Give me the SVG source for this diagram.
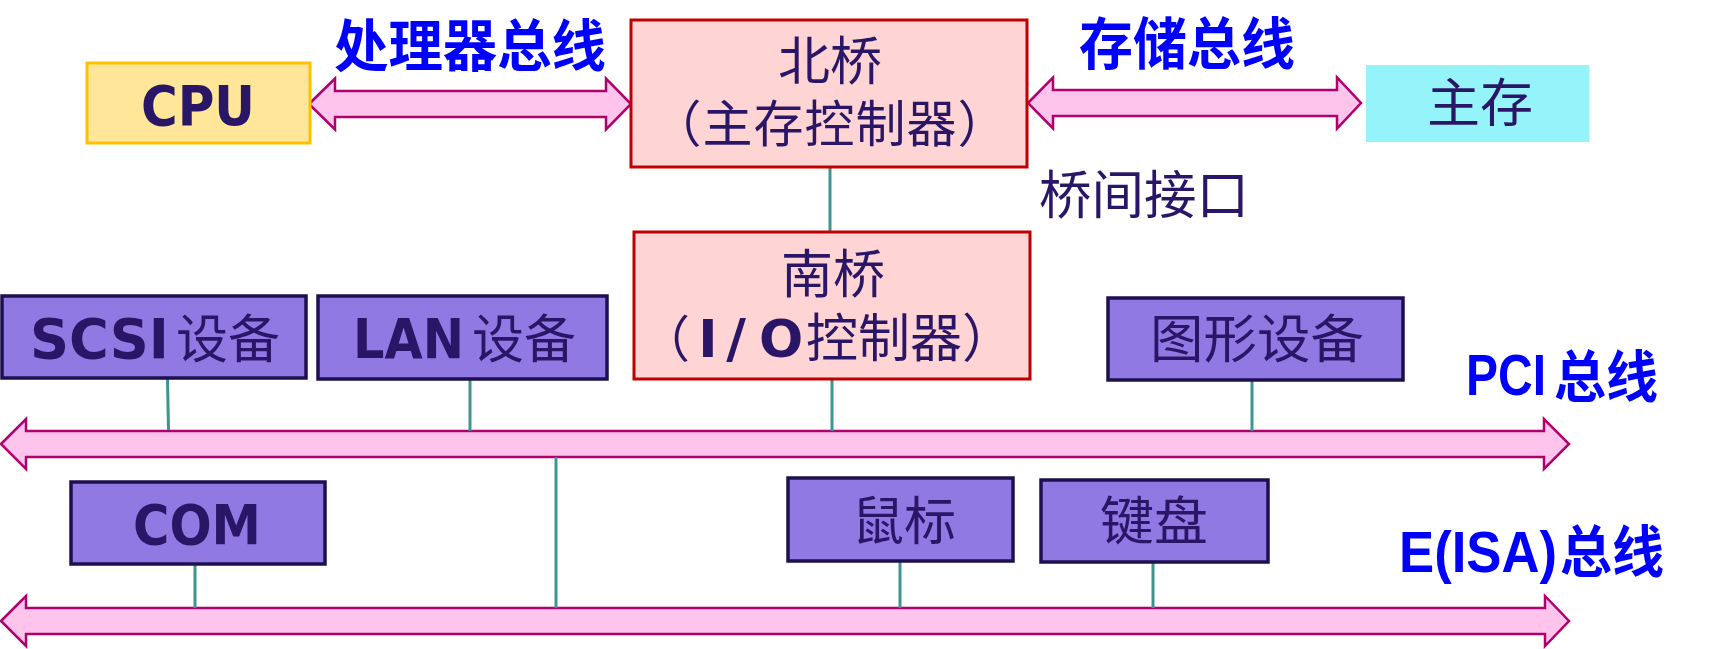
<svg xmlns="http://www.w3.org/2000/svg" width="1719" height="649" viewBox="0 0 1719 649">
<style>
.bus{fill:#FFC4EC;stroke:#B0006E;stroke-width:2.5;stroke-linejoin:miter}
.link{stroke:#3E958F;stroke-width:3;fill:none}
.dev{fill:#9179E4;stroke:#1E1050;stroke-width:3.5}
.bridge{fill:#FFD4D4;stroke:#C00000;stroke-width:3}
.t{fill:#2A1667;font-family:"Noto Sans CJK SC","Noto Sans",sans-serif;font-size:52px}
.b{fill:#2A1667;font-family:"DejaVu Sans",Verdana,sans-serif;font-weight:bold}
.lbl{fill:#0000FF;font-family:"Noto Sans CJK SC",sans-serif;font-weight:bold;font-size:56px}
.lat{fill:#0000FF;font-family:"Liberation Sans",Arial,sans-serif;font-weight:bold;font-size:58px}
</style>
<g id="connectors">
<polygon class="bus" points="309,104 335,78.5 335,91 606,91 606,78.5 631,104 606,129.5 606,117 335,117 335,129.5"/>
<polygon class="bus" points="1028,103 1053,77.5 1053,90 1337,90 1337,77.5 1361,103 1337,128.5 1337,116 1053,116 1053,128.5"/>
<polygon class="bus" points="1,444 26,419 26,431 1544,431 1544,419 1569,444 1544,469 1544,457 26,457 26,469"/>
<polygon class="bus" points="1,621 26,596 26,608 1545,608 1545,596 1569,621 1545,646 1545,634 26,634 26,646"/>
<line class="link" x1="830" y1="167" x2="830" y2="232"/>
<line class="link" x1="167.5" y1="379" x2="168.5" y2="430"/>
<line class="link" x1="470" y1="380" x2="470" y2="431"/>
<line class="link" x1="832" y1="380" x2="832" y2="431"/>
<line class="link" x1="1252" y1="380" x2="1252" y2="431"/>
<line class="link" x1="556" y1="457" x2="556" y2="608"/>
<line class="link" x1="195" y1="564" x2="195" y2="608"/>
<line class="link" x1="900" y1="561" x2="900" y2="608"/>
<line class="link" x1="1153" y1="562" x2="1153" y2="608"/>
</g>
<g id="label-processor-bus"><text class="lbl" x="470" y="66" text-anchor="middle" textLength="272" lengthAdjust="spacingAndGlyphs">处理器总线</text></g>
<g id="label-memory-bus"><text class="lbl" x="1187" y="64" text-anchor="middle" textLength="216" lengthAdjust="spacingAndGlyphs">存储总线</text></g>
<g id="label-bridge-if"><text class="t" x="1144" y="214" text-anchor="middle" textLength="210" lengthAdjust="spacingAndGlyphs">桥间接口</text></g>
<g id="label-pci">
<text class="lat" x="1466" y="395" textLength="80" lengthAdjust="spacingAndGlyphs">PCI</text>
<text class="lbl" x="1554" y="397" textLength="104" lengthAdjust="spacingAndGlyphs">总线</text>
</g>
<g id="label-isa">
<text class="lat" x="1399" y="572" textLength="158" lengthAdjust="spacingAndGlyphs">E(ISA)</text>
<text class="lbl" x="1560" y="572" textLength="104" lengthAdjust="spacingAndGlyphs">总线</text>
</g>
<g id="cpu">
<rect x="87" y="63" width="223" height="80" fill="#FFE699" stroke="#FFC000" stroke-width="3"/>
<text class="b" x="198" y="125" font-size="56" text-anchor="middle" textLength="114" lengthAdjust="spacingAndGlyphs">CPU</text>
</g>
<g id="northbridge">
<rect class="bridge" x="631" y="20" width="396" height="147"/>
<text class="t" text-anchor="middle"><tspan x="830" y="80">北桥</tspan><tspan x="830" y="142" font-size="50" letter-spacing="1">（主存控制器）</tspan></text>
</g>
<g id="memory">
<rect x="1366" y="65" width="223" height="77" fill="#94F4F9"/>
<text class="t" x="1480" y="122" text-anchor="middle" textLength="106" lengthAdjust="spacingAndGlyphs">主存</text>
</g>
<g id="southbridge">
<rect class="bridge" x="634" y="232" width="396" height="147"/>
<text class="t"><tspan x="833" y="293" text-anchor="middle">南桥</tspan><tspan x="690" y="357" text-anchor="end" font-size="50">（</tspan><tspan class="b" x="708" y="357" text-anchor="middle" font-size="52" font-family="DejaVu Serif, serif">I</tspan><tspan class="b" x="736" y="357" text-anchor="middle" font-size="54">/</tspan><tspan class="b" x="781" y="357" text-anchor="middle" font-size="52">O</tspan><tspan x="806" y="357" text-anchor="start">控制器）</tspan></text>
</g>
<g id="scsi">
<rect class="dev" x="2" y="296" width="304" height="82"/>
<text class="b" x="30" y="358" font-size="55" textLength="139" lengthAdjust="spacingAndGlyphs">SCSI</text>
<text class="t" x="176" y="358" textLength="104" lengthAdjust="spacingAndGlyphs">设备</text>
</g>
<g id="lan">
<rect class="dev" x="318" y="296" width="289" height="83"/>
<text class="b" x="353" y="358" font-size="55" textLength="111" lengthAdjust="spacingAndGlyphs">LAN</text>
<text class="t" x="472" y="358" textLength="104" lengthAdjust="spacingAndGlyphs">设备</text>
</g>
<g id="graphics">
<rect class="dev" x="1108" y="298" width="295" height="82"/>
<text class="t" x="1257" y="358" text-anchor="middle" textLength="214" lengthAdjust="spacingAndGlyphs">图形设备</text>
</g>
<g id="com">
<rect class="dev" x="71" y="482" width="254" height="82"/>
<text class="b" x="197" y="544" font-size="55" text-anchor="middle" textLength="128" lengthAdjust="spacingAndGlyphs">COM</text>
</g>
<g id="mouse">
<rect class="dev" x="788" y="478" width="225" height="83"/>
<text class="t" x="904" y="540" text-anchor="middle" textLength="104" lengthAdjust="spacingAndGlyphs">鼠标</text>
</g>
<g id="keyboard">
<rect class="dev" x="1041" y="480" width="227" height="82"/>
<text class="t" x="1154" y="540" text-anchor="middle" textLength="108" lengthAdjust="spacingAndGlyphs">键盘</text>
</g>
</svg>
